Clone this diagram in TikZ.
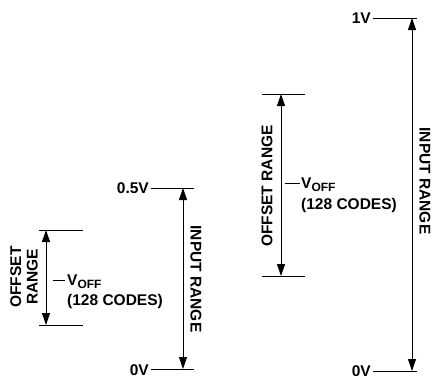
\documentclass[tikz,border=0pt]{standalone}
\usepackage{fontspec}
\setmainfont{Liberation Sans}
\usetikzlibrary{arrows.meta}
\tikzset{
  lbl/.style={font=\fontsize{15.5}{16.5}\selectfont\bfseries, inner sep=0pt},
  tick/.style={line width=0.9pt},
  dim/.style={line width=0.9pt, {Triangle[length=12pt,width=8pt]}-{Triangle[length=12pt,width=8pt]}},
}
\newcommand{\voff}{V\raisebox{-0.35ex}{\fontsize{12}{13}\selectfont OFF}}
\begin{document}
\begin{tikzpicture}[x=1pt,y=-1pt]
\useasboundingbox (0,0) rectangle (433,375);
% ---------- left diagram ----------
\coordinate (lt1) at (151,188); \coordinate (lt2) at (194,188);
\coordinate (lb1) at (151,369); \coordinate (lb2) at (194,369);
\coordinate (la1) at (183,188); \coordinate (la2) at (183,369);
\node[lbl, anchor=east] (l05) at (149,188) {0.5V};
\node[lbl, anchor=east] (l0) at (149,370) {0V};
\draw[tick] (lt1) -- (lt2);
\draw[tick] (lb1) -- (lb2);
\draw[dim] (la1) -- (la2);
\node[lbl, rotate=-90] (lir) at (196,279) {INPUT RANGE};
\coordinate (ot1) at (39,230); \coordinate (ot2) at (83,230);
\coordinate (ob1) at (39,325); \coordinate (ob2) at (83,325);
\coordinate (oa1) at (46,230); \coordinate (oa2) at (46,325);
\draw[tick] (ot1) -- (ot2);
\draw[tick] (ob1) -- (ob2);
\draw[dim] (oa1) -- (oa2);
\node[lbl, rotate=90, align=center] (lor) at (24,277) {OFFSET\\RANGE};
\coordinate (ld1) at (53,280); \coordinate (ld2) at (65,280);
\draw[tick] (ld1) -- (ld2);
\node[lbl, anchor=west] (lvoff) at (67,282) {\voff};
\node[lbl, anchor=west] (lcodes) at (67,301) {(128 CODES)};
% ---------- right diagram ----------
\coordinate (rt1) at (373,18); \coordinate (rt2) at (417,18);
\coordinate (rb1) at (373,371); \coordinate (rb2) at (417,371);
\coordinate (ra1) at (412,18); \coordinate (ra2) at (412,371);
\node[lbl, anchor=east] (r1) at (371,18) {1V};
\node[lbl, anchor=east] (r0) at (371,371) {0V};
\draw[tick] (rt1) -- (rt2);
\draw[tick] (rb1) -- (rb2);
\draw[dim] (ra1) -- (ra2);
\node[lbl, rotate=-90] (rir) at (425,181) {INPUT RANGE};
\coordinate (pt1) at (262,94); \coordinate (pt2) at (305,94);
\coordinate (pb1) at (262,276); \coordinate (pb2) at (305,276);
\coordinate (pa1) at (281,94); \coordinate (pa2) at (281,276);
\draw[tick] (pt1) -- (pt2);
\draw[tick] (pb1) -- (pb2);
\draw[dim] (pa1) -- (pa2);
\node[lbl, rotate=90] (ror) at (267,186) {OFFSET RANGE};
\coordinate (rd1) at (285,183); \coordinate (rd2) at (300,183);
\draw[tick] (rd1) -- (rd2);
\node[lbl, anchor=west] (rvoff) at (301,185) {\voff};
\node[lbl, anchor=west] (rcodes) at (301,205) {(128 CODES)};
\end{tikzpicture}
\end{document}
